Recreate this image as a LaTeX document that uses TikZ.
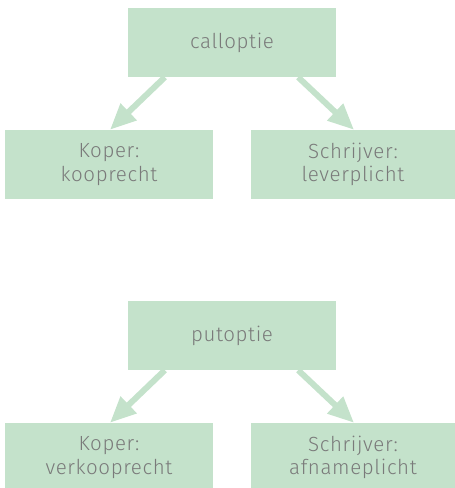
\documentclass[tikz,border=0pt]{standalone}
\usepackage{fontspec}
\setmainfont{Fira Sans Light}[LetterSpace=3]
\usetikzlibrary{calc,arrows.meta}
\definecolor{vakgroen}{HTML}{C4E2CB}
\definecolor{tekstgrijs}{HTML}{7A7A7A}
\tikzset{
	blok/.style={fill=vakgroen, minimum width=208pt, minimum height=69pt, inner sep=0pt,
		align=center, text=tekstgrijs, font=\fontsize{20.5}{23.5}\selectfont},
	pijl/.style={draw=vakgroen, line width=6pt, -{Triangle[length=26pt,width=22pt]}}
}
\begin{document}
\begin{tikzpicture}[x=1pt,y=1pt]
				
				\useasboundingbox (0,0) rectangle (455,-488);
				
				% calloptie
				\node[blok] (call) at (232,-42.5) {calloptie};
				\node[blok] (callk) at (109,-164.5) {Koper:\\kooprecht};
				\node[blok, minimum width=204pt] (calls) at (353,-164.5) {Schrijver:\\leverplicht};
				
				\draw[pijl] ($(call.south west)+(37,0)$) -- ($(callk.north)+(1,0)$);
				\draw[pijl] ($(call.south east)+(-38,0)$) -- ($(calls.north)+(1,0)$);
				
				% putoptie
				\node[blok] (put) at (232,-335.5) {putoptie};
				\node[blok] (putk) at (109,-457.5) {Koper:\\verkooprecht};
				\node[blok, minimum width=204pt] (puts) at (353,-457.5) {Schrijver:\\afnameplicht};
				
				\draw[pijl] ($(put.south west)+(37,0)$) -- ($(putk.north)+(1,0)$);
				\draw[pijl] ($(put.south east)+(-38,0)$) -- ($(puts.north)+(1,0)$);
				
			\end{tikzpicture}
\end{document}
